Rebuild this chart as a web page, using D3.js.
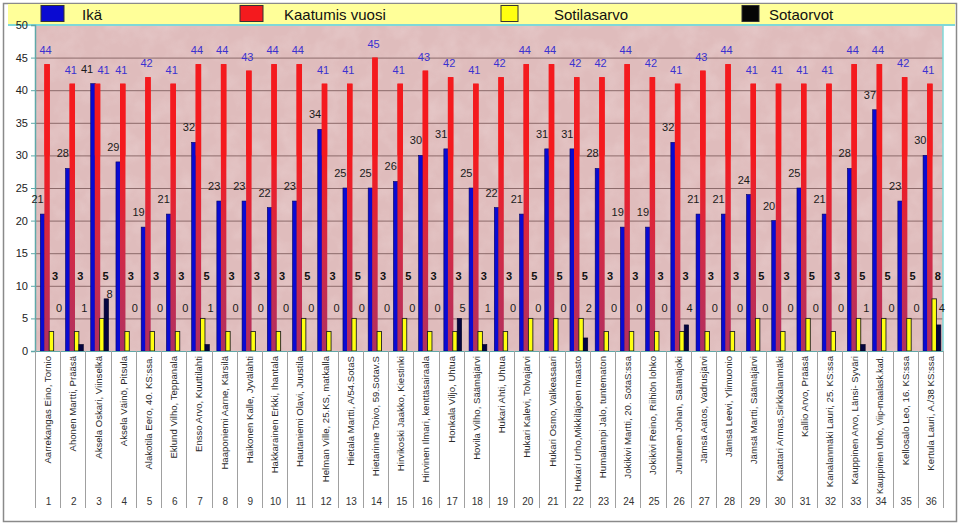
<!DOCTYPE html>
<html>
<head>
<meta charset="utf-8">
<script src="https://cdn.jsdelivr.net/npm/d3@7"></script>
<style>
  html, body { margin: 0; padding: 0; background: #ffffff; }
  svg { display: block; font-family: Arial, "Liberation Sans", sans-serif; }
</style>
</head>
<body>
<svg id="chart" width="960" height="525"></svg>
<script>
// ---- data ----
const categories = [
  "Aarrekangas Eino, Tornio", "Ahonen Martti, Prääsä", "Aksela Oskari, Viinselkä",
  "Aksela Väinö, Pitsula", "Alakotila Eero, 40. KS:ssa.", "Eklund Vilho, Teppanala",
  "Ensso Arvo, Kuuttilahti", "Haaponiemi Aarne, Kärsilä", "Haikonen Kalle, Jyvälahti",
  "Hakkarainen Erkki, Ihantala", "Hautaniemi Olavi, Juustila", "Helman Ville, 25.KS, matkalla",
  "Hietala Martti, A/54.SotaS", "Hietarinne Toivo, 59.Sotav.S", "Hirvikoski Jaakko, Kiestinki",
  "Hirvinen Ilmari, kenttäsairaala", "Honkala Viljo, Uhtua", "Hovila Vilho, Säämäjärvi",
  "Hukari Ahti, Uhtua", "Hukari Kalevi, Tolvajärvi", "Hukari Osmo, Valkeasaari",
  "Hukari Urho,Mikkiläjoen maasto", "Humalampi Jalo, tuntematon", "Jokikivi Martti, 20. SotaS:ssa",
  "Jokikivi Reino, Riihiön lohko", "Juntunen Johan, Säämäjoki", "Jämsä Aatos, Vadrusjärvi",
  "Jämsä Leevi, Ylimuonio", "Jämsä Martti, Säämäjärvi", "Kaattari Armas,Sirkkalanmäki",
  "Kallio Arvo, Prääsä", "Kanalanmäki Lauri, 25.  KS:ssa", "Kauppinen Arvo, Länsi- Syväri",
  "Kauppinen Urho, Viip-maalask.kad.", "Kellosalo Leo, 16. KS:ssa", "Kertula Lauri, A./38 KS:ssa"
];
const categoryNumbers = d3.range(1, 37).map(String);

const ika = [21, 28, 41, 29, 19, 21, 32, 23, 23, 22, 23, 34, 25, 25, 26, 30, 31, 25,
             22, 21, 31, 31, 28, 19, 19, 32, 21, 21, 24, 20, 25, 21, 28, 37, 23, 30];
const kaatumisVuosi = [44, 41, 41, 41, 42, 41, 44, 44, 43, 44, 44, 41, 41, 45, 41, 43, 42, 41,
                       42, 44, 44, 42, 42, 44, 42, 41, 43, 44, 41, 41, 41, 41, 44, 44, 42, 41];
const sotilasarvo = [3, 3, 5, 3, 3, 3, 5, 3, 3, 3, 5, 3, 5, 3, 5, 3, 3, 3,
                     3, 5, 5, 5, 3, 3, 3, 3, 3, 3, 5, 3, 5, 3, 5, 5, 5, 8];
const sotaorvot = [0, 1, 8, 0, 0, 0, 1, 0, 0, 0, 0, 0, 0, 0, 0, 0, 5, 1,
                   0, 0, 0, 2, 0, 0, 0, 4, 0, 0, 0, 0, 0, 0, 1, 0, 0, 4];

const seriesNames = ["Ikä", "Kaatumis vuosi", "Sotilasarvo", "Sotaorvot"];
const yTicks = d3.range(0, 51, 5);

// ---- layout ----
const svg = d3.select("#chart");
const plot = { left: 35, right: 943, top: 25, bottom: 351 };

const x = d3.scaleBand().domain(categoryNumbers).range([plot.left, plot.right]).padding(0);
const bw = x.bandwidth();
const x1 = d3.scaleBand().domain(seriesNames).range([bw * 0.21, bw * 0.915]).padding(0);
const y = d3.scaleLinear().domain([0, 50]).range([plot.bottom, plot.top]);

const defs = svg.append("defs");
const filt = defs.append("filter").attr("id", "marble").attr("x", 0).attr("y", 0).attr("width", 1).attr("height", 1);
filt.append("feTurbulence").attr("type", "fractalNoise").attr("baseFrequency", 0.05).attr("numOctaves", 3).attr("seed", 7).attr("result", "n");
filt.append("feColorMatrix").attr("in", "n").attr("type", "matrix")
  .attr("values", "0 0 0 0 0.95  0 0 0 0 0.86  0 0 0 0 0.86  0 0 0 0.9 -0.35").attr("result", "c");
filt.append("feComposite").attr("in", "c").attr("in2", "SourceGraphic").attr("operator", "in");

const grad = defs.append("linearGradient").attr("id", "redGrad")
  .attr("gradientUnits", "userSpaceOnUse").attr("x1", 0).attr("x2", 0)
  .attr("y1", y(30)).attr("y2", y(0));
grad.append("stop").attr("offset", "0%").attr("stop-color", "#f41a1e");
grad.append("stop").attr("offset", "45%").attr("stop-color", "#d42a44");
grad.append("stop").attr("offset", "100%").attr("stop-color", "#b03060");

// outer frame
svg.append("rect").attr("x", 3.5).attr("y", 3.5).attr("width", 953).attr("height", 518)
  .attr("fill", "#fff").attr("stroke", "#8a8a8a").attr("stroke-width", 1.5);

// legend band
svg.append("rect").attr("x", 8).attr("y", 4).attr("width", 947).attr("height", 20).attr("fill", "#ffff99");

// plot background
svg.append("rect").attr("x", plot.left).attr("y", plot.top)
  .attr("width", plot.right - plot.left).attr("height", plot.bottom - plot.top)
  .attr("fill", "#dfbcbc");
svg.append("rect").attr("x", plot.left).attr("y", plot.top)
  .attr("width", plot.right - plot.left).attr("height", plot.bottom - plot.top)
  .attr("fill", "#dfbcbc").attr("filter", "url(#marble)").attr("opacity", 0.45);

// gridlines
svg.append("g").selectAll("line").data(yTicks.filter(t => t > 0 && t < 50)).join("line")
  .attr("x1", plot.left).attr("x2", plot.right)
  .attr("y1", d => y(d) + 0.5).attr("y2", d => y(d) + 0.5)
  .attr("stroke", "#8c6a6a").attr("stroke-width", 1);

// plot border (cyan) top / right
svg.append("line").attr("x1", 8).attr("x2", 955).attr("y1", plot.top).attr("y2", plot.top)
  .attr("stroke", "#7fd8d8").attr("stroke-width", 2);
svg.append("line").attr("x1", plot.right).attr("x2", plot.right).attr("y1", plot.top).attr("y2", plot.bottom)
  .attr("stroke", "#7fd8d8").attr("stroke-width", 1.5);

// y axis
const yAxis = d3.axisLeft(y).tickValues(yTicks).tickSize(4).tickPadding(3);
const gy = svg.append("g").attr("transform", `translate(${plot.left},0)`).call(yAxis);
gy.select(".domain").attr("stroke", "#5fa8a8").attr("stroke-width", 1.5);
gy.selectAll(".tick line").attr("stroke", "#5fa8a8");
gy.selectAll(".tick text").attr("font-size", 11).attr("fill", "#222")
  .attr("font-family", "Arial, 'Liberation Sans', sans-serif");

// bars
const groups = svg.append("g").selectAll("g").data(categoryNumbers).join("g")
  .attr("transform", d => `translate(${x(d)},0)`);

const seriesData = [ika, kaatumisVuosi, sotilasarvo, sotaorvot];
const fills = ["#0a0ad2", "url(#redGrad)", "#ffff10", "#050540"];
const strokes = ["#000060", "none", "#222", "#000020"];

seriesNames.forEach((s, si) => {
  groups.append("rect")
    .attr("x", x1(s) - (si === 1 ? 0.4 : 0))
    .attr("width", x1.bandwidth() + (si === 1 ? 1 : 0))
    .attr("y", (d, i) => y(seriesData[si][i]))
    .attr("height", (d, i) => y(0) - y(seriesData[si][i]))
    .attr("fill", fills[si])
    .attr("stroke", strokes[si]).attr("stroke-width", si === 2 ? 0.9 : 0.6);
});
// red bar upper part brighter
groups.append("rect")
  .attr("x", x1("Kaatumis vuosi") - 0.4).attr("width", x1.bandwidth() + 1)
  .attr("y", (d, i) => y(kaatumisVuosi[i]))
  .attr("height", (d, i) => Math.max(0, y(30) - y(kaatumisVuosi[i])))
  .attr("fill", "#f41a1e");

// data labels
const near = i => ika[i] >= kaatumisVuosi[i] - 3;
const lab = svg.append("g").attr("font-size", 11).attr("text-anchor", "middle");
lab.selectAll("text.ika").data(categoryNumbers).join("text").attr("class", "ika")
  .attr("x", (d, i) => x(d) + bw / 2 - (near(i) ? 11 : 10))
  .attr("y", (d, i) => y(ika[i]) - 11)
  .attr("fill", "#1a1a1a")
  .text((d, i) => ika[i]);
lab.selectAll("text.kv").data(categoryNumbers).join("text").attr("class", "kv")
  .attr("x", (d, i) => x(d) + bw / 2 + (near(i) ? 5.5 : -2))
  .attr("y", (d, i) => y(kaatumisVuosi[i]) - 10)
  .attr("fill", "#3a32d0")
  .text((d, i) => kaatumisVuosi[i]);
lab.selectAll("text.sa").data(categoryNumbers).join("text").attr("class", "sa")
  .attr("x", d => x(d) + bw / 2 + 7.5)
  .attr("y", y(11.5) + 4)
  .attr("fill", "#111").attr("font-weight", "bold")
  .text((d, i) => sotilasarvo[i]);
lab.selectAll("text.so").data(categoryNumbers).join("text").attr("class", "so")
  .attr("x", d => x(d) + bw / 2 + 11.5)
  .attr("y", (d, i) => y(Math.max(sotaorvot[i] + 0.8, 6.6)) + 4)
  .attr("fill", "#1a1a1a")
  .text((d, i) => sotaorvot[i]);

// x axis baseline
svg.append("line").attr("x1", plot.left).attr("x2", plot.right)
  .attr("y1", plot.bottom + 0.5).attr("y2", plot.bottom + 0.5)
  .attr("stroke", "#5fa8a8").attr("stroke-width", 1);

// category separators
const seps = x.domain().map(d => x(d)).concat([plot.right]);
svg.append("g").selectAll("line").data(seps).join("line")
  .attr("x1", d => Math.round(d) + 0.5).attr("x2", d => Math.round(d) + 0.5)
  .attr("y1", plot.bottom).attr("y2", 508)
  .attr("stroke", "#a0a0a0").attr("stroke-width", 1);

// category names (rotated)
const maxLen = 138;
svg.append("g").selectAll("text").data(categoryNumbers).join("text")
  .attr("transform", d => `translate(${x(d) + bw / 2 + 3.5},356) rotate(-90)`)
  .attr("text-anchor", "end")
  .attr("font-size", 9.6).attr("fill", "#2a2a2a")
  .text((d, i) => categories[i])
  .each(function () {
    if (this.getComputedTextLength() > maxLen) {
      d3.select(this).attr("textLength", maxLen).attr("lengthAdjust", "spacingAndGlyphs");
    }
  });

// category numbers
svg.append("g").selectAll("text").data(categoryNumbers).join("text")
  .attr("x", d => x(d) + bw / 2 + 1).attr("y", 505)
  .attr("text-anchor", "middle").attr("font-size", 10).attr("fill", "#333")
  .text(d => d);

// legend
const legendItems = [
  { name: seriesNames[0], color: "#0a0ad2", x: 41, w: 23, tx: 82 },
  { name: seriesNames[1], color: "#f41a1e", x: 240, w: 23, tx: 284 },
  { name: seriesNames[2], color: "#ffff10", x: 501, w: 17, tx: 554 },
  { name: seriesNames[3], color: "#050505", x: 742, w: 17, tx: 769 }
];
const lg = svg.append("g");
lg.selectAll("rect").data(legendItems).join("rect")
  .attr("x", d => d.x).attr("y", 5.5).attr("width", d => d.w).attr("height", 16)
  .attr("fill", d => d.color).attr("stroke", "#333").attr("stroke-width", 1);
lg.selectAll("text").data(legendItems).join("text")
  .attr("x", d => d.tx).attr("y", 19.5)
  .attr("font-size", 15).attr("fill", "#111")
  .text(d => d.name);
</script>
</body>
</html>
